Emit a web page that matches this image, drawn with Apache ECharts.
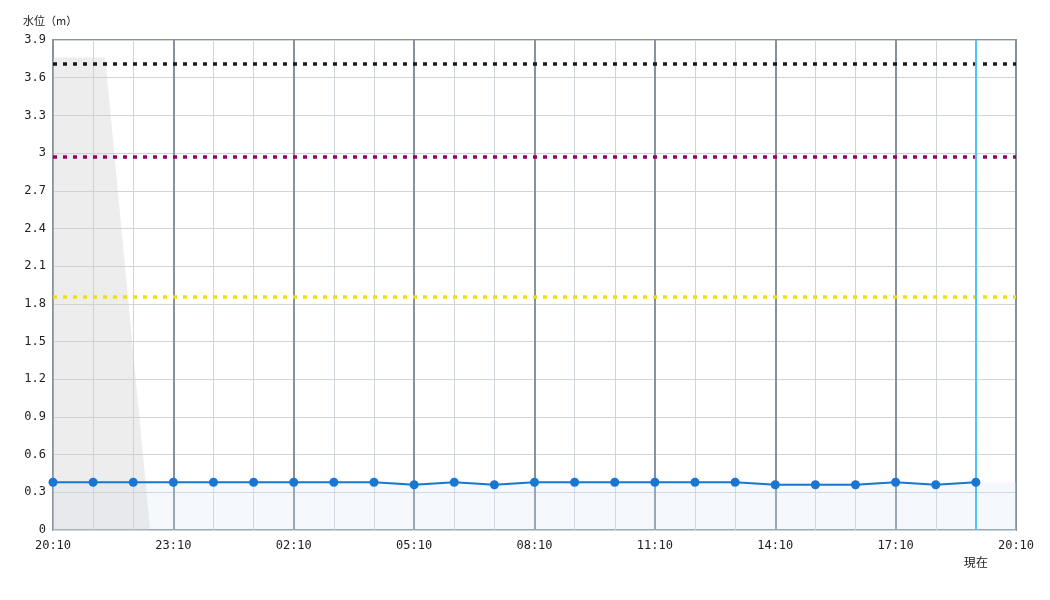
<!DOCTYPE html>
<html>
<head>
<meta charset="utf-8">
<script src="https://cdn.jsdelivr.net/npm/echarts@6/dist/echarts.min.js"></script>
<style>
  html, body { margin: 0; padding: 0; background: #fff; }
  #main { width: 1050px; height: 600px; }
</style>
</head>
<body>
<div id="main"></div>
<script>
// 時刻ラベル (0..24 時間目)
var timeLabels = ['20:10', '21:10', '22:10', '23:10', '00:10', '01:10', '02:10', '03:10', '04:10',
    '05:10', '06:10', '07:10', '08:10', '09:10', '10:10', '11:10', '12:10', '13:10', '14:10',
    '15:10', '16:10', '17:10', '18:10', '19:10', '20:10'];
var yTicks = [0, 0.3, 0.6, 0.9, 1.2, 1.5, 1.8, 2.1, 2.4, 2.7, 3, 3.3, 3.6, 3.9];
// 毎時の水位
var hours = [0, 1, 2, 3, 4, 5, 6, 7, 8, 9, 10, 11, 12, 13, 14, 15, 16, 17, 18, 19, 20, 21, 22, 23];
var waterLevel = [0.38, 0.38, 0.38, 0.38, 0.38, 0.38, 0.38, 0.38, 0.38, 0.36, 0.38, 0.36,
    0.38, 0.38, 0.38, 0.38, 0.38, 0.38, 0.36, 0.36, 0.36, 0.38, 0.36, 0.38];
// 灰色の領域 (時間, 水位)
var shadeX = [0, 1.3, 2.42];
var shadeY = [3.76, 3.76, 0];
// 基準水位
var levelBlack = 3.71;
var levelPurple = 2.97;
var levelYellow = 1.86;
var bandTop = 0.38;
var nowHour = 23;

var myChart = echarts.init(document.getElementById('main'));
var font = 'DejaVu Sans Mono';

function timeFmt(v) {
    return timeLabels[Math.round(v)] || '';
}

var option = {
    animation: false,
    title: {
        text: '水位（m）',
        left: 18,
        top: 10,
        textStyle: { fontSize: 11, fontWeight: 'normal', color: '#222', fontFamily: 'Noto Sans CJK JP' }
    },
    grid: {
        left: 53, right: 34, top: 40, bottom: 70,
        show: true,
        borderColor: '#86929c',
        borderWidth: 2
    },
    xAxis: [
        {
            type: 'value', min: 0, max: 24, interval: 1,
            axisLine: { show: false },
            axisTick: { show: false },
            axisLabel: { show: false },
            splitLine: { lineStyle: { color: '#ced5db', width: 1 } }
        },
        {
            type: 'value', min: 0, max: 24, interval: 3,
            position: 'bottom',
            axisLine: { show: false },
            axisTick: { show: false },
            axisLabel: {
                formatter: timeFmt, margin: 10,
                fontFamily: font, fontSize: 12, color: '#222'
            },
            splitLine: { lineStyle: { color: '#86929c', width: 2 } }
        }
    ],
    yAxis: {
        type: 'value', min: 0, max: 3.9, interval: 0.3,
        axisLine: { show: false },
        axisTick: { show: false },
        axisLabel: {
            margin: 7, fontFamily: font, fontSize: 12, color: '#222',
            formatter: function (v) {
                var t = yTicks.find(function (k) { return Math.abs(k - v) < 1e-6; });
                return t === undefined ? '' : String(t);
            }
        },
        splitLine: { lineStyle: { color: '#ced5db', width: 1 } }
    },
    series: [
        {
            name: 'band',
            type: 'line',
            data: [],
            silent: true,
            markArea: {
                silent: true,
                itemStyle: { color: 'rgba(215,232,250,0.25)' },
                data: [[{ xAxis: 0, yAxis: 0 }, { xAxis: 24, yAxis: bandTop }]]
            }
        },
        {
            name: 'shade',
            type: 'line',
            xAxisIndex: 0,
            symbol: 'none',
            silent: true,
            lineStyle: { width: 0 },
            areaStyle: { color: 'rgba(205,205,205,0.5)', origin: 'start' },
            data: shadeX.map(function (x, i) { return [x, shadeY[i]]; })
        },
        {
            name: 'levels',
            type: 'line',
            data: [],
            silent: true,
            markLine: {
                silent: true,
                symbol: 'none',
                label: { show: false },
                data: [
                    { yAxis: levelBlack, lineStyle: { color: '#1a1a1a', width: 3.5, type: [4, 6] } },
                    { yAxis: levelPurple, lineStyle: { color: '#990066', width: 3.5, type: [4, 6] } },
                    { yAxis: levelYellow, lineStyle: { color: '#f2e000', width: 3.5, type: [4, 6] } }
                ]
            }
        },
        {
            name: '水位',
            type: 'line',
            z: 5,
            symbol: 'circle',
            symbolSize: 9,
            itemStyle: { color: '#1976d2' },
            lineStyle: { color: '#1976d2', width: 2 },
            data: hours.map(function (h, i) { return [h, waterLevel[i]]; }),
            markLine: {
                silent: true,
                symbol: 'none',
                lineStyle: { color: '#4fc3f7', width: 2, type: 'solid' },
                label: {
                    position: 'start', formatter: '現在', distance: 26,
                    fontFamily: 'Noto Sans CJK JP', fontSize: 12, color: '#222'
                },
                data: [{ xAxis: nowHour }]
            }
        }
    ]
};
myChart.setOption(option);
</script>
</body>
</html>
